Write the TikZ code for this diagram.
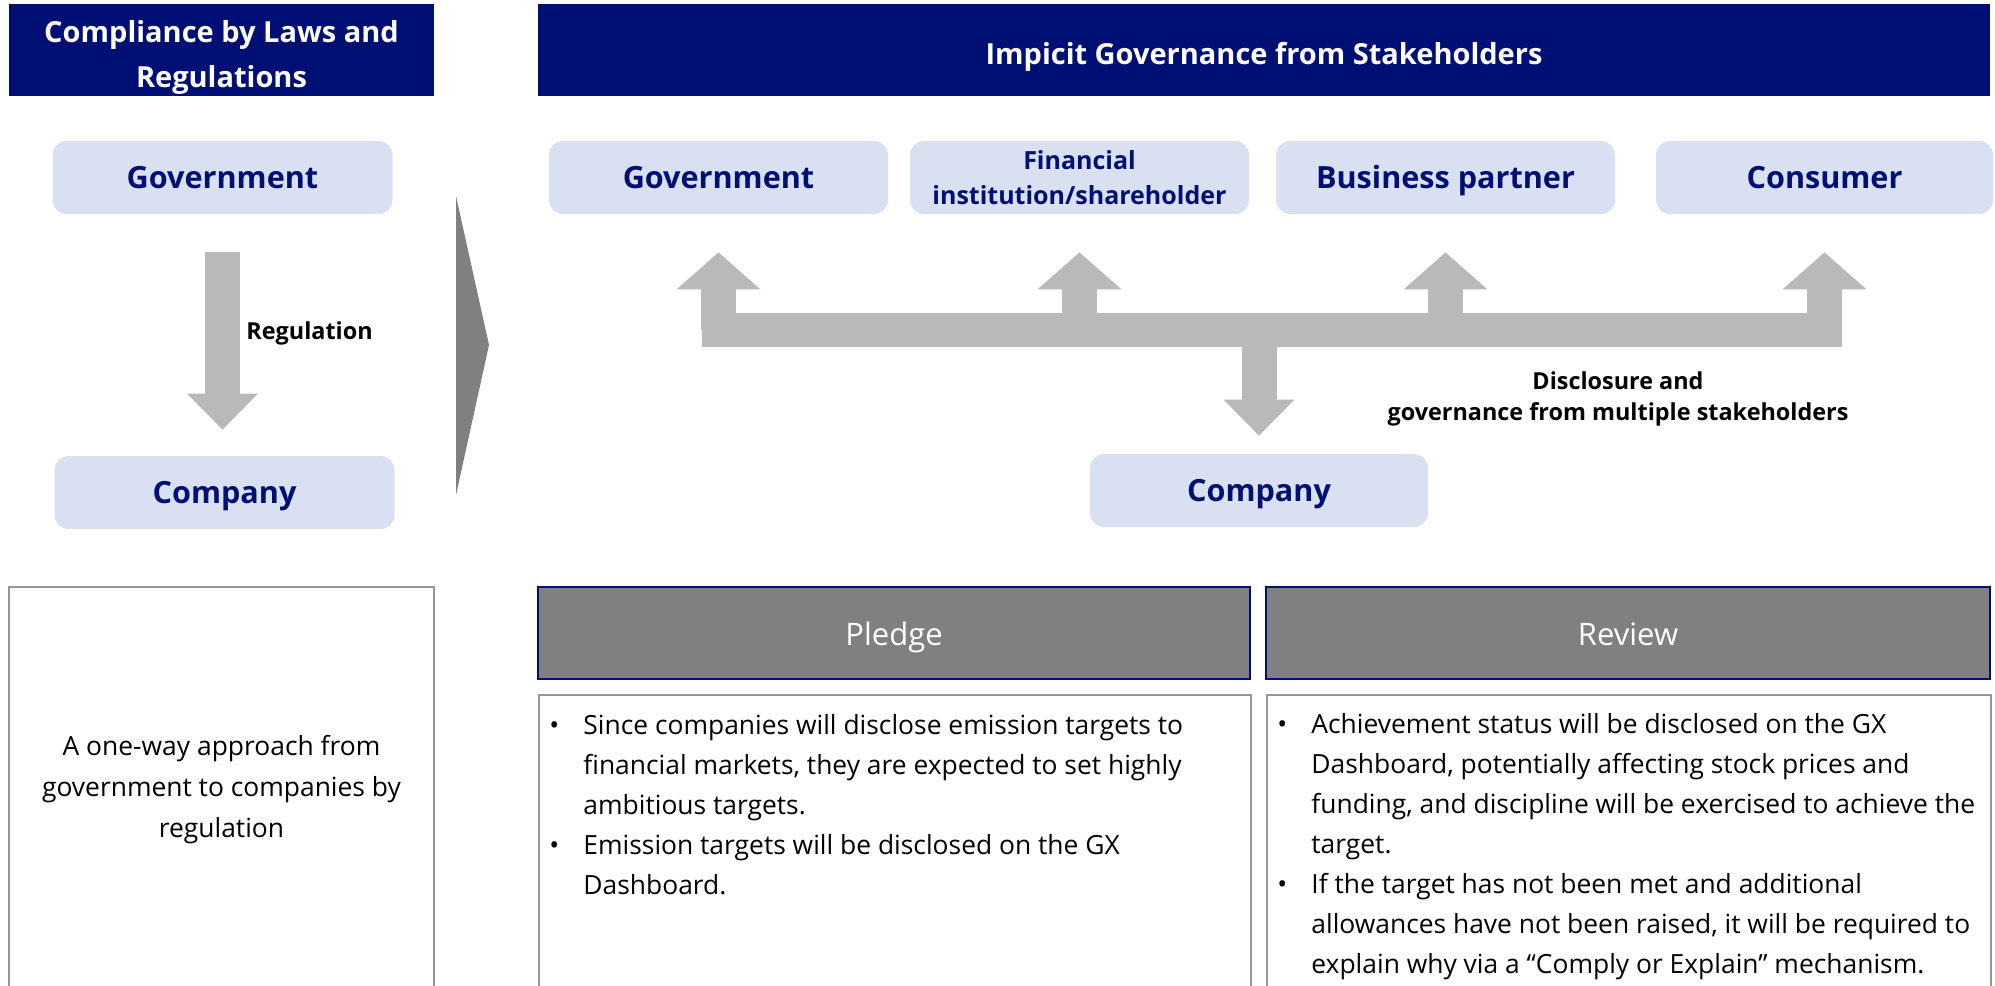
\documentclass[tikz,border=0pt]{standalone}
\usepackage{fontspec}
\setmainfont{Open Sans}
\usetikzlibrary{arrows.meta}

\definecolor{navy}{RGB}{0,15,115}
\definecolor{paleblue}{RGB}{216,224,241}
\definecolor{arrowgray}{RGB}{185,185,185}
\definecolor{headgray}{RGB}{128,128,128}
\definecolor{framegray}{RGB}{150,150,150}

\begin{document}
\begin{tikzpicture}[x=0.5pt,y=-0.5pt]
	\def \headrow{50}
	\def \toprow{177.5}
	\def \barrow{330}
	\def \steprow{633}
	\tikzstyle{h-node}=[fill=navy,text=white,font=\fontsize{14.5}{22.5}\selectfont\bfseries,align=center,inner sep=0pt,minimum height=46pt,text depth=0pt]
	\tikzstyle{s-node}=[fill=paleblue,rounded corners=7pt,text=navy,font=\fontsize{15.3}{20}\selectfont\bfseries,inner sep=0pt,minimum width=170pt,minimum height=36.5pt,text height=10.9pt,text depth=0pt]
	\tikzstyle{p-node}=[fill=headgray,draw=navy,line width=0.8pt,text=white,font=\fontsize{15.5}{20}\selectfont,inner sep=0pt,minimum height=46pt,text height=12pt,text depth=0pt]
	\tikzstyle{frame}=[draw=framegray,line width=0.9pt,inner sep=0pt]
	\tikzstyle{t-node}=[font=\fontsize{13.2}{20}\selectfont,align=left,inner sep=0pt,anchor=base west]
	\tikzstyle{annot}=[font=\fontsize{11.7}{15.3}\selectfont\bfseries,inner sep=0pt]
	\tikzstyle{fat}=[draw,arrowgray,line width=17.5pt]
	\tikzstyle{up-arrow}=[fat,-{Triangle[width=42pt,length=18.5pt,line width=0pt]}]
	\tikzstyle{down-arrow}=[fat,-{Triangle[width=35.5pt,length=18pt,line width=0pt]}]
	\useasboundingbox (0,0) rectangle (1995,985);

	% headers
	\node[h-node,minimum width=212.5pt,text height=37pt] (lawhead) at (221.5,\headrow) {Compliance by Laws and\\Regulations};
	\node[h-node,minimum width=726pt,text height=14pt] (govhead) at (1264,\headrow) {Impicit Governance from Stakeholders};

	% laws and regulations
	\node[s-node] (govL) at (222.5,\toprow) {Government};
	\node[s-node] (compL) at (224.5,492.5) {Company};
	\node[annot,anchor=base west] (reg) at (246,339) {Regulation};

	% shift
	\fill[headgray] (456,196) -- (489,345) -- (456,495) -- cycle;

	% stakeholders
	\node[s-node,minimum width=169.5pt] (s0) at (718.5,\toprow) {Government};
	\node[s-node,minimum width=169.5pt,font=\fontsize{12.5}{17.5}\selectfont\bfseries,align=center,text height=,text depth=] (s1) at (1079.5,\toprow) {Financial\\institution/shareholder};
	\node[s-node,minimum width=169.5pt] (s2) at (1445.5,\toprow) {Business partner};
	\node[s-node,minimum width=168.5pt] (s3) at (1824.5,\toprow) {Consumer};
	\node[s-node,minimum width=169pt] (comp) at (1259,490.5) {Company};
	% base = last line
	\node[annot,align=center,anchor=base] (discl) at (1618,420) {Disclosure and\\governance from multiple stakeholders};

	\coordinate (hub) at (comp |- 0,\barrow);
	\draw[fat,line width=17pt,line cap=rect] (s0 |- hub) -- (s3 |- hub);
	\path[every edge/.style={up-arrow,shorten >=19pt}]
		(s0 |- hub)	edge	(s0)
		(s1 |- hub)	edge	(s1)
		(s2 |- hub)	edge	(s2)
		(s3 |- hub)	edge	(s3);
	\path[every edge/.style={down-arrow}]
		(hub)		edge[shorten >=9pt]	(comp)
		(govL.south)	edge[shorten <=19pt,shorten >=13pt]	(govL.south |- compL.north);

	% pledge and review
	\node[frame,minimum width=212.5pt,minimum height=203pt,font=\fontsize{13.2}{20.5}\selectfont,align=center] (oneway) at (221.5,790) {A one-way approach from\\government to companies by\\regulation};
	\node[p-node,minimum width=356pt] (pledge) at (894,\steprow) {Pledge};
	\node[p-node,minimum width=362pt] (review) at (1628,\steprow) {Review};
	\node[frame,minimum width=356pt,minimum height=165pt,anchor=north west] (pbox) at (538,694) {};
	\node[frame,minimum width=362pt,minimum height=165pt,anchor=north west] (rbox) at (1266,694) {};

	% bullets sit on the first line, texts on their last line
	\node[t-node] (pb0) at (549,734) {•};
	\node[t-node] (p0) at (583,814) {Since companies will disclose emission targets to\\financial markets, they are expected to set highly\\ambitious targets.};
	\node[t-node] (pb1) at (549,854) {•};
	\node[t-node] (p1) at (583,894) {Emission targets will be disclosed on the GX\\Dashboard.};

	\node[t-node] (vb0) at (1277,733) {•};
	\node[t-node] (v0) at (1311,853) {Achievement status will be disclosed on the GX\\Dashboard, potentially affecting stock prices and\\funding, and discipline will be exercised to achieve the\\target.};
	\node[t-node] (vb1) at (1277,893) {•};
	\node[t-node] (v1) at (1311,973) {If the target has not been met and additional\\allowances have not been raised, it will be required to\\explain why via a “Comply or Explain” mechanism.};
\end{tikzpicture}
\end{document}
